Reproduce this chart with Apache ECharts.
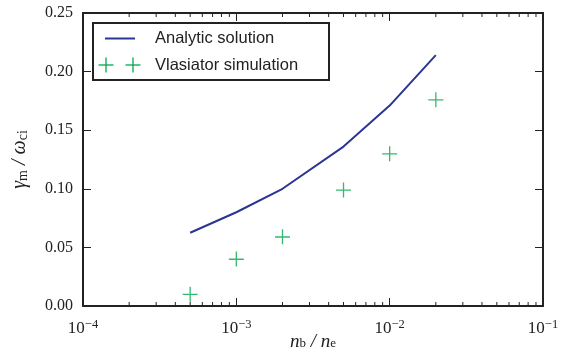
<!DOCTYPE html>
<html><head><meta charset="utf-8">
<script src="https://cdn.jsdelivr.net/npm/echarts@6/dist/echarts.min.js"></script>
<style>html,body{margin:0;padding:0;background:#fff}#c{width:573px;height:352px}</style>
</head><body><div id="c"></div>
<script>
const densityRatio = [5e-4, 1e-3, 2e-3, 5e-3, 1e-2, 2e-2];
const analyticGrowth = [0.0625, 0.080, 0.100, 0.136, 0.171, 0.214];
const simX = [5e-4, 1e-3, 2e-3, 5e-3, 1e-2, 2e-2];
const simGrowth = [0.010, 0.040, 0.059, 0.099, 0.130, 0.176];
const yTicks = [0, 0.05, 0.10, 0.15, 0.20, 0.25];
const xMinorTicks = [2e-4,3e-4,4e-4,5e-4,6e-4,7e-4,8e-4,9e-4,
                     2e-3,3e-3,4e-3,5e-3,6e-3,7e-3,8e-3,9e-3,
                     2e-2,3e-2,4e-2,5e-2,6e-2,7e-2,8e-2,9e-2];
const seriesNames = ['Analytic solution', 'Vlasiator simulation'];

const AX = '#222';
const serif = 'Liberation Serif';
const BLUE = '#2b3592', GREEN = '#00a84a';
const plusPath = 'path://M0,7H15V8.3H0Z M6.85,0H8.15V15H6.85Z';
const chart = echarts.init(document.getElementById('c'));

function expFmt(v){
  const e = Math.round(Math.log10(v));
  return '{b|10}{s|' + (e < 0 ? '\u2212' + (-e) : e) + '}';
}
function plus(cx, cy){
  return [
    {type:'line', shape:{x1:cx-7.5, y1:cy, x2:cx+7.5, y2:cy}, style:{stroke:GREEN, lineWidth:1.3}, z:101},
    {type:'line', shape:{x1:cx, y1:cy-7.5, x2:cx, y2:cy+7.5}, style:{stroke:GREEN, lineWidth:1.3}, z:101}
  ];
}

const xCommon = {type:'log', min:1e-4, max:1e-1, logBase:10,
  axisLine:{show:true, onZero:false, lineStyle:{color:AX, width:2}},
  axisTick:{show:true, inside:true, length:8, lineStyle:{color:AX, width:1}},
  splitLine:{show:false}, minorTick:{show:false}};
const yCommon = {type:'value', min:0, max:0.25, interval:0.05,
  axisLine:{show:true, onZero:false, lineStyle:{color:AX, width:2}},
  axisTick:{show:true, inside:true, length:8, lineStyle:{color:AX, width:1}},
  splitLine:{show:false}};

chart.setOption({
  animation:false,
  grid:{left:83, right:30, top:13, bottom:46, containLabel:false, outerBoundsMode:'none'},
  xAxis:[
    Object.assign({}, xCommon, {position:'bottom',
      axisLabel:{formatter:expFmt, margin:12, color:AX,
        rich:{b:{fontFamily:serif, fontSize:17, color:AX},
              s:{fontFamily:serif, fontSize:12.5, color:AX, padding:[0,0,9,0]}}},
      name:'{i|n}{s|b}{i| / n}{s|e}', nameLocation:'middle', nameGap:26, nameMoveOverlap:false,
      nameTextStyle:{rich:{i:{fontFamily:serif, fontStyle:'italic', fontSize:19, color:AX, padding:[0,0,5,0]},
                           s:{fontFamily:serif, fontSize:13, color:AX}}}}),
    Object.assign({}, xCommon, {position:'top', axisLabel:{show:false}})
  ],
  yAxis:[
    Object.assign({}, yCommon, {position:'left',
      axisLabel:{color:AX, fontFamily:serif, fontSize:16, margin:10,
        formatter:v=>v.toFixed(2)},
      name:'{i|γ}{s|m}{i| / ω}{s|ci}', nameLocation:'middle', nameGap:47, nameRotate:90, nameMoveOverlap:false,
      nameTextStyle:{rich:{i:{fontFamily:serif, fontStyle:'italic', fontSize:20, color:AX, padding:[0,0,6,0]},
                           s:{fontFamily:serif, fontSize:14, color:AX}}}}),
    Object.assign({}, yCommon, {position:'right', axisLabel:{show:false}})
  ],
  series:[
    {name:seriesNames[0], type:'line', xAxisIndex:0, yAxisIndex:0,
     data:densityRatio.map((x,i)=>[x, analyticGrowth[i]]),
     showSymbol:false, symbol:'none', lineStyle:{color:BLUE, width:2}},
    {name:seriesNames[1], type:'scatter', xAxisIndex:0, yAxisIndex:0,
     data:simX.map((x,i)=>[x, simGrowth[i]]),
     symbol:plusPath, symbolSize:15, itemStyle:{color:GREEN}},
    {type:'custom', xAxisIndex:0, yAxisIndex:0, silent:true,
     data:xMinorTicks.map(v=>[v, 0]),
     renderItem:function(params, api){
       const x = api.coord([api.value(0), 0])[0];
       const cs = params.coordSys;
       return {type:'group', children:[
         {type:'line', shape:{x1:x, y1:cs.y+cs.height, x2:x, y2:cs.y+cs.height-4}, style:{stroke:AX, lineWidth:1}},
         {type:'line', shape:{x1:x, y1:cs.y, x2:x, y2:cs.y+4}, style:{stroke:AX, lineWidth:1}}
       ]};
     }}
  ],
  graphic:[
    {type:'rect', shape:{x:93, y:23, width:236, height:57}, style:{fill:'#fff', stroke:AX, lineWidth:2}, z:100},
    {type:'line', shape:{x1:105, y1:38.5, x2:135, y2:38.5}, style:{stroke:BLUE, lineWidth:2}, z:101}
  ].concat(plus(106, 65), plus(133, 65), [
    {type:'text', x:155, y:38.5, style:{text:seriesNames[0], fontFamily:'Liberation Sans', fontSize:16.5, fill:AX, verticalAlign:'middle'}, z:101},
    {type:'text', x:155, y:65, style:{text:seriesNames[1], fontFamily:'Liberation Sans', fontSize:16.5, fill:AX, verticalAlign:'middle'}, z:101}
  ])
});
</script></body></html>
